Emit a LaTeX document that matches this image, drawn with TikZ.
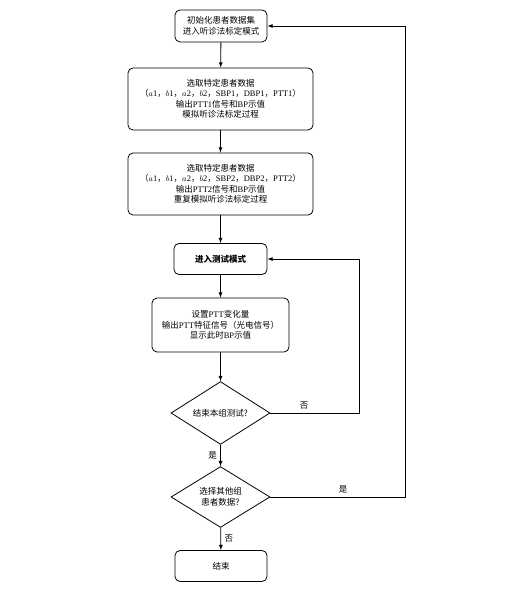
\documentclass[tikz,border=0pt]{standalone}
\usepackage{fontspec}
\setmainfont{Noto Sans CJK SC}
\newfontfamily\lat{Liberation Serif}
\usetikzlibrary{shapes.geometric}
\tikzset{
  stepbox/.style={rectangle,rounded corners=5pt,draw,line width=0.8pt,align=center,
    font=\fontsize{8.5}{10.5}\selectfont},
  testbox/.style={diamond,draw,line width=0.8pt,align=center,inner sep=0pt,
    minimum width=99pt,minimum height=60pt,font=\fontsize{8.5}{10.5}\selectfont},
  flow/.style={line width=0.8pt,->,>=latex},
  answer/.style={font=\fontsize{8.5}{10}\selectfont}
}
\begin{document}
\begin{tikzpicture}[x=1pt,y=-1pt]
\useasboundingbox (0,0) rectangle (530,593);
	\node[stepbox,minimum width=92pt,minimum height=32pt] (init) at (221,26)
	{初始化患者数据集\\进入听诊法标定模式};
	\node[stepbox,minimum width=185pt,minimum height=62pt] (calib1) at (220.5,99)
	{选取特定患者数据\\（$a${\lat 1}，$b${\lat 1}，$a${\lat 2}，$b${\lat 2}，{\lat SBP1}，{\lat DBP1}，{\lat PTT1}）\\
	输出{\lat PTT1}信号和{\lat BP}示值\\模拟听诊法标定过程};
	\node[stepbox,minimum width=185pt,minimum height=62pt] (calib2) at (220.5,184)
	{选取特定患者数据\\（$a${\lat 1}，$b${\lat 1}，$a${\lat 2}，$b${\lat 2}，{\lat SBP2}，{\lat DBP2}，{\lat PTT2}）\\
	输出{\lat PTT2}信号和{\lat BP}示值\\重复模拟听诊法标定过程};
	\node[stepbox,minimum width=93pt,minimum height=31pt,font=\fontsize{8.5}{10.5}\selectfont\bfseries] (test) at (220.5,259)
	{进入测试模式};
	\node[stepbox,minimum width=137pt,minimum height=54pt] (vary) at (220.5,325)
	{设置{\lat PTT}变化量\\输出{\lat PTT}特征信号（光电信号）\\显示此时{\lat BP}示值};
	\node[testbox] (endgrp) at (220.5,413) {结束本组测试?};
	\node[testbox] (other) at (220.5,497) {选择其他组\\患者数据?};
	\node[stepbox,minimum width=92pt,minimum height=31pt] (stop) at (221,566) {结束};
	\coordinate (back1) at (359,259);
	\coordinate (back2) at (405,26);
\draw[flow] (init) -- (calib1);
\draw[flow] (calib1) -- (calib2);
\draw[flow] (calib2) -- (test);
\draw[flow] (test) -- (vary);
\draw[flow] (vary) -- (endgrp);
\draw[flow] (endgrp) -- node[left,answer] {是} (other);
\draw[flow] (other) -- node[right,answer] {否} (stop);
\draw[flow] (endgrp.east) -| node[pos=0.19,above,answer] {否} (back1) -- (test.east);
\draw[flow] (other.east) -| node[pos=0.27,above,answer] {是} (back2) -- (init.east);
\end{tikzpicture}
\end{document}
